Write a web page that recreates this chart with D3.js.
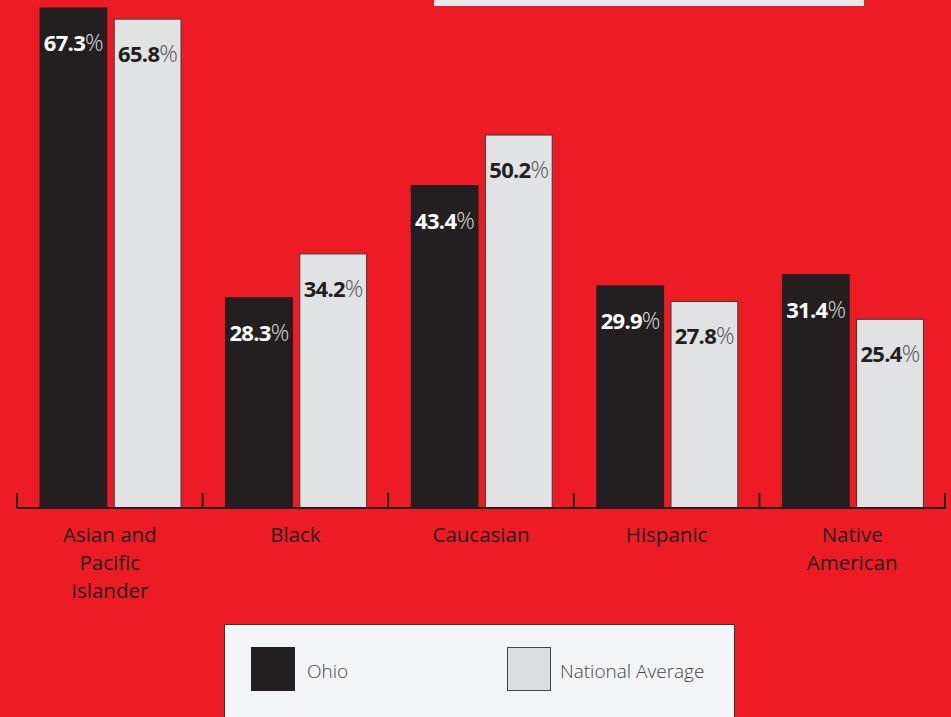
<!DOCTYPE html>
<html><head><meta charset="utf-8">
<script src="https://cdn.jsdelivr.net/npm/d3@7"></script>
<style>html,body{margin:0;padding:0;background:#ed1c24;overflow:hidden}</style>
</head><body>
<svg id="c" width="951" height="717"></svg>
<script>
const categories = ["Asian and\nPacific\nIslander", "Black", "Caucasian", "Hispanic", "Native\nAmerican"];
const ohio = [67.3, 28.3, 43.4, 29.9, 31.4];
const national = [65.8, 34.2, 50.2, 27.8, 25.4];
const seriesNames = ["Ohio", "National Average"];

const svg = d3.select("#c");
const W = 951, H = 717;
svg.append("rect").attr("width", W).attr("height", H).attr("fill", "#ed1c24");
// top (cut-off) box
svg.append("rect").attr("x", 434).attr("y", -20).attr("width", 430).attr("height", 26).attr("fill", "#e6e7e8");

const font = "'Open Sans', sans-serif";
const x0 = d3.scaleBand().domain(d3.range(categories.length)).range([17, 945]).paddingInner(0).paddingOuter(0);
const x1 = d3.scaleBand().domain([0, 1]).range([23, 164]).paddingInner(0.1);
const y = d3.scaleLinear().domain([0, 67.3]).range([508, 8]);

const data = categories.map((c, i) => ({c, i, vals: [ohio[i], national[i]]}));
const g = svg.append("g");
const groups = g.selectAll("g.grp").data(data).enter().append("g")
  .attr("transform", d => `translate(${x0(d.i)},0)`);

const fills = ["#231f20", "#e1e2e3"];
const strokes = ["#231f20", "#3a3a3a"];
const txtCol = ["#ffffff", "#231f20"];
const pctCol = ["#d8d8d8", "#555"];

groups.selectAll("rect").data(d => d.vals.map((v, k) => ({v, k}))).enter().append("rect")
  .attr("x", d => x1(d.k)).attr("y", d => y(d.v))
  .attr("width", x1.bandwidth()).attr("height", d => y(0) - y(d.v))
  .attr("fill", d => fills[d.k]).attr("stroke", d => strokes[d.k]).attr("stroke-width", 1);

const lbl = groups.selectAll("text.v").data(d => d.vals.map((v, k) => ({v, k}))).enter().append("text")
  .attr("class", "v")
  .attr("x", d => x1(d.k) + x1.bandwidth() / 2).attr("y", d => y(d.v) + 43)
  .attr("text-anchor", "middle").attr("font-family", font).attr("font-size", 22)
  .attr("letter-spacing", -0.7);
lbl.append("tspan").attr("font-weight", "bold").attr("fill", d => txtCol[d.k]).text(d => d.v.toFixed(1));
lbl.append("tspan").attr("font-weight", "300").attr("font-size", 23).attr("fill", d => pctCol[d.k]).text("%");

// axis
const axis = svg.append("g");
axis.append("line").attr("x1", 17).attr("x2", 946).attr("y1", 508).attr("y2", 508)
  .attr("stroke", "#231f20").attr("stroke-width", 2);
const ticks = d3.range(categories.length + 1).map(i => i < categories.length ? x0(i) : x0.range()[1]);
axis.selectAll("line.t").data(ticks).enter().append("line").attr("class", "t")
  .attr("x1", d => d).attr("x2", d => d).attr("y1", 493).attr("y2", 508)
  .attr("stroke", "#231f20").attr("stroke-width", 2);

// category labels
groups.append("text").attr("text-anchor", "middle").attr("font-family", font).attr("font-size", 20.5)
  .attr("fill", "#231f20")
  .selectAll("tspan").data(d => d.c.split("\n")).enter().append("tspan")
  .attr("x", x0.bandwidth() / 2).attr("y", (d, j) => 542 + j * 28).text(d => d);

// legend
const leg = svg.append("g");
leg.append("rect").attr("x", 224.5).attr("y", 624.5).attr("width", 510).attr("height", 110)
  .attr("fill", "#f3f4f6").attr("stroke", "#333").attr("stroke-width", 1);
const legX = [251, 507], legTX = [307, 560];
seriesNames.forEach((s, k) => {
  leg.append("rect").attr("x", legX[k] + 0.5).attr("y", 647.5).attr("width", 43).attr("height", 43)
    .attr("fill", k === 0 ? "#231f20" : "#dcdddf").attr("stroke", k === 0 ? "#231f20" : "#444");
  leg.append("text").attr("x", legTX[k]).attr("y", 678).attr("font-family", font).attr("font-size", 19)
    .attr("font-weight", "300").attr("fill", "#444").text(s);
});
</script>
</body></html>
